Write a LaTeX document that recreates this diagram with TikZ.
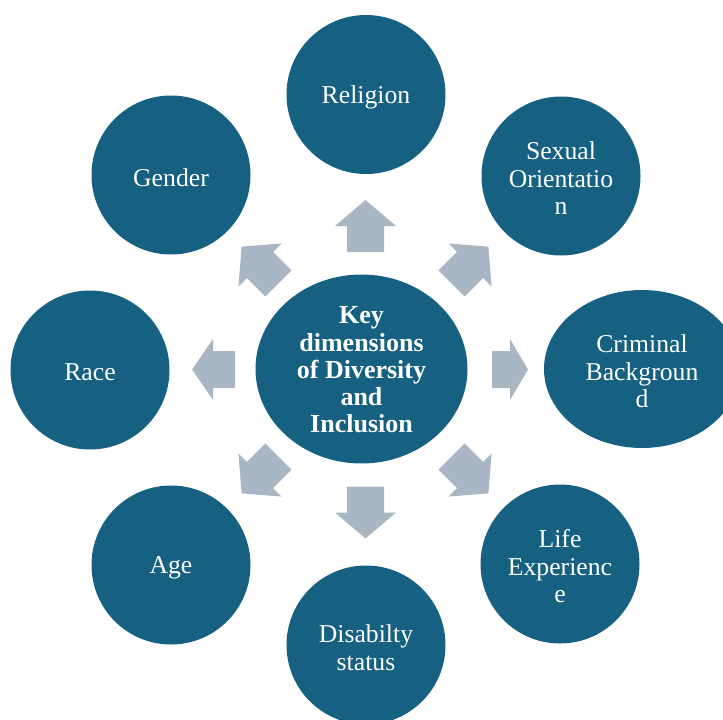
\documentclass[tikz,border=0pt]{standalone}
\usepackage{fontspec}
\setmainfont{Liberation Serif}
\usetikzlibrary{shapes.geometric}
\definecolor{dimblue}{HTML}{166082}
\definecolor{arrowgrey}{HTML}{A9B6C3}
\tikzset{
  dimtext/.style={text=white, align=center, inner sep=0pt,
    font=\fontsize{25.7}{27.5}\selectfont},
  dimcircle/.style={dimtext, circle, fill=dimblue, minimum size=159pt},
  dimoval/.style={dimtext, ellipse, fill=dimblue},
  labelshift/.style={yshift=-2.5pt},
  hubtext/.style={text=white, align=center, inner sep=0pt,
    font=\bfseries\fontsize{26}{27.3}\selectfont},
  blockarrowfill/.style={fill=arrowgrey},
}
% block arrow: centre x, centre y, direction (degrees), total length, head length
\newcommand\blockarrow[5]{%
  \fill[blockarrowfill, shift={(#1,#2)}, rotate=#3]
    (-#4/2,-18.5) -- (#4/2-#5,-18.5) -- (#4/2-#5,-30.5) -- (#4/2,0)
    -- (#4/2-#5,30.5) -- (#4/2-#5,18.5) -- (-#4/2,18.5) -- cycle;}
\begin{document}
\begin{tikzpicture}[x=1pt, y=-1pt]
  \useasboundingbox (0,0) rectangle (723,720);
  \clip (0,0) rectangle (723,720);

  % central hub
  \node[dimoval, minimum width=212pt, minimum height=189pt] (hub) at (361.5,369) {};
  \node[hubtext, yshift=-1pt] (hubLabel) at (hub.center) {Key\\dimensions\\of Diversity\\and\\Inclusion};

  % surrounding dimensions: filled shapes, then their labels
  \node[dimcircle] (religion) at (366,94.5) {};
  \node[dimcircle] (sexual) at (561,176) {};
  \node[dimoval, minimum width=196pt, minimum height=158pt] (criminal) at (642,369) {};
  \node[dimcircle] (life) at (560,564) {};
  \node[dimcircle] (disability) at (366,645) {};
  \node[dimcircle] (age) at (171,565) {};
  \node[dimcircle] (race) at (90,370) {};
  \node[dimcircle] (gender) at (171,175) {};

  \node[dimtext, labelshift] (religionLabel) at (religion.center) {Religion};
  \node[dimtext, labelshift] (sexualLabel) at (sexual.center) {Sexual\\Orientatio\\n};
  \node[dimtext, labelshift] (criminalLabel) at (criminal.center) {Criminal\\Backgroun\\d};
  \node[dimtext, labelshift] (lifeLabel) at (life.center) {Life\\Experienc\\e};
  \node[dimtext, labelshift] (disabilityLabel) at (disability.center) {Disabilty\\status};
  \node[dimtext, labelshift] (ageLabel) at (age.center) {Age};
  \node[dimtext, labelshift] (raceLabel) at (race.center) {Race};
  \node[dimtext, labelshift] (genderLabel) at (gender.center) {Gender};

  % outward block arrows
  \blockarrow{365.5}{226}{90}{52}{26}
  \blockarrow{365.5}{512.5}{270}{52}{26}
  \blockarrow{213.5}{369.5}{180}{43}{21}
  \blockarrow{510}{369.5}{0}{36}{18}
  \blockarrow{260}{265}{135}{52}{26}
  \blockarrow{470}{265}{45}{52}{26}
  \blockarrow{260}{475}{225}{52}{26}
  \blockarrow{470}{475}{315}{52}{26}
\end{tikzpicture}
\end{document}
